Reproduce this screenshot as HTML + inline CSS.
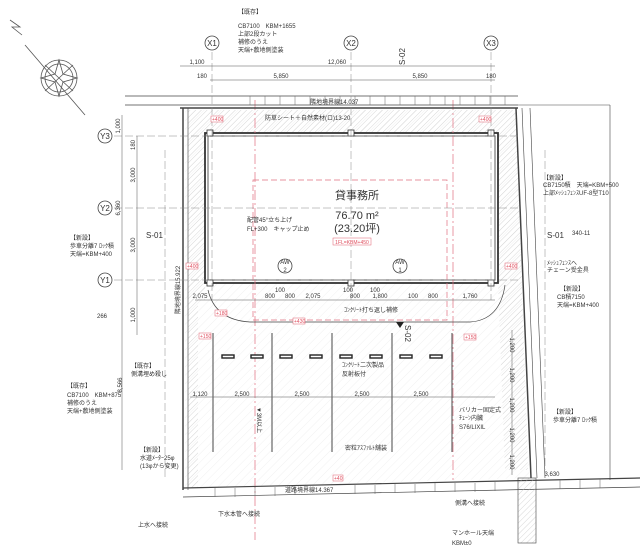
<!DOCTYPE html>
<html><head><meta charset="utf-8"><style>
html,body{margin:0;padding:0;background:#fff}
svg{display:block}
text{font-family:"Liberation Sans","Noto Sans CJK JP",sans-serif;fill:#333}
.s{font-size:6px}.m{font-size:8px}.l{font-size:11px}
.r{fill:#e05060;font-size:5px}
</style></head><body>
<svg width="640" height="555" viewBox="0 0 640 555" xmlns="http://www.w3.org/2000/svg">
<defs>
<pattern id="h" width="4" height="4" patternUnits="userSpaceOnUse" patternTransform="rotate(45)"><line x1="0" y1="0" x2="0" y2="4" stroke="#bbb" stroke-width="0.6"/></pattern>
<pattern id="h2" width="6" height="6" patternUnits="userSpaceOnUse" patternTransform="rotate(45)"><line x1="0" y1="0" x2="0" y2="6" stroke="#e8e8e8" stroke-width="0.6"/></pattern>
</defs>
<g stroke="#555" fill="none" stroke-width="0.8">
<polyline points="10,20 20,27 12,27 22,35"/>
<line x1="25" y1="45" x2="85" y2="115"/>
<circle cx="59" cy="78" r="18"/><circle cx="59" cy="78" r="14"/>
<polygon points="59,60 63,74 77,78 63,82 59,96 55,82 41,78 55,74"/>
<line x1="45" y1="65" x2="73" y2="91"/><line x1="73" y1="65" x2="45" y2="91"/>
</g>
<polygon points="185,110 515,110 530,478 185,488" fill="url(#h2)"/>
<path d="M188,110 L516,110 L528,470 L505,470 L498,283 L498,133 L205,133 L205,300 L198,300 L198,110 Z" fill="url(#h)"/>
<rect x="188" y="110" width="10" height="378" fill="url(#h)"/>
<rect x="205" y="133" width="293" height="150" fill="#fff" stroke="#333" stroke-width="1.8"/>
<rect x="208" y="136" width="287" height="144" fill="none" stroke="#333" stroke-width="0.8"/>
<g fill="#fff" stroke="#333" stroke-width="0.8">
<rect x="207" y="130" width="6" height="6"/><rect x="348" y="130" width="6" height="6"/><rect x="488" y="130" width="6" height="6"/>
<rect x="207" y="280" width="6" height="6"/><rect x="348" y="280" width="6" height="6"/><rect x="488" y="280" width="6" height="6"/>
</g>
<rect x="253" y="180" width="194" height="140" fill="none" stroke="#e07080" stroke-width="0.7" stroke-dasharray="6,3"/>
<line x1="255" y1="100" x2="255" y2="540" stroke="#e07080" stroke-width="0.7" stroke-dasharray="10,3,2,3"/>
<line x1="453" y1="100" x2="453" y2="480" stroke="#e07080" stroke-width="0.7" stroke-dasharray="10,3,2,3"/>
<g stroke="#444" fill="none">
<line x1="125" y1="96" x2="518" y2="96" stroke-width="0.7"/>
<line x1="125" y1="105" x2="518" y2="105" stroke-width="0.7"/>
<line x1="180" y1="108" x2="518" y2="108" stroke-width="1.5"/>
<line x1="183" y1="108" x2="183" y2="490" stroke-width="1.5"/>
<line x1="188" y1="108" x2="188" y2="490" stroke-width="0.6"/>
<line x1="516" y1="108" x2="531" y2="478" stroke-width="1.5"/>
<line x1="522" y1="108" x2="537" y2="478" stroke-width="0.6"/>
<line x1="530" y1="108" x2="545" y2="478" stroke-width="0.6"/>
<line x1="183" y1="488" x2="640" y2="478" stroke-width="1.2"/>
<line x1="183" y1="497" x2="640" y2="487" stroke-width="0.7"/>
<line x1="518" y1="105" x2="610" y2="105" stroke-width="0.6"/>
<line x1="610" y1="105" x2="610" y2="480" stroke-width="0.6"/>
<rect x="518" y="478" width="18" height="65" fill="url(#h)" stroke="#444" stroke-width="0.6"/>
</g>
<g stroke="#666" stroke-width="0.5">
<line x1="250" y1="96" x2="250" y2="105"/><line x1="265" y1="96" x2="265" y2="105"/><line x1="280" y1="96" x2="280" y2="105"/><line x1="295" y1="96" x2="295" y2="105"/><line x1="310" y1="96" x2="310" y2="105"/><line x1="325" y1="96" x2="325" y2="105"/><line x1="340" y1="96" x2="340" y2="105"/><line x1="355" y1="96" x2="355" y2="105"/><line x1="370" y1="96" x2="370" y2="105"/><line x1="385" y1="96" x2="385" y2="105"/><line x1="400" y1="96" x2="400" y2="105"/><line x1="415" y1="96" x2="415" y2="105"/><line x1="430" y1="96" x2="430" y2="105"/><line x1="445" y1="96" x2="445" y2="105"/><line x1="460" y1="96" x2="460" y2="105"/><line x1="475" y1="96" x2="475" y2="105"/><line x1="490" y1="96" x2="490" y2="105"/><line x1="505" y1="96" x2="505" y2="105"/>
<line x1="215" y1="488" x2="215" y2="497"/><line x1="235" y1="488" x2="235" y2="497"/><line x1="255" y1="487" x2="255" y2="496"/><line x1="275" y1="487" x2="275" y2="496"/><line x1="295" y1="486" x2="295" y2="495"/><line x1="355" y1="485" x2="355" y2="494"/><line x1="375" y1="485" x2="375" y2="494"/><line x1="395" y1="484" x2="395" y2="493"/><line x1="415" y1="484" x2="415" y2="493"/><line x1="435" y1="483" x2="435" y2="492"/><line x1="455" y1="483" x2="455" y2="492"/><line x1="475" y1="483" x2="475" y2="492"/><line x1="495" y1="482" x2="495" y2="491"/><line x1="560" y1="480" x2="560" y2="489"/><line x1="580" y1="480" x2="580" y2="489"/><line x1="600" y1="479" x2="600" y2="488"/>
</g>
<g stroke="#888" stroke-width="0.5" stroke-dasharray="8,3">
<line x1="212" y1="52" x2="212" y2="300"/><line x1="351" y1="52" x2="351" y2="300"/><line x1="491" y1="52" x2="491" y2="300"/>
<line x1="114" y1="136" x2="520" y2="136"/><line x1="114" y1="208" x2="520" y2="208"/><line x1="114" y1="280" x2="520" y2="280"/>
<line x1="165" y1="150" x2="165" y2="480"/><line x1="545" y1="150" x2="545" y2="470"/>
</g>
<g fill="#fff" stroke="#444" stroke-width="0.8">
<circle cx="212" cy="43" r="7"/><circle cx="351" cy="43" r="7"/><circle cx="491" cy="43" r="7"/>
<circle cx="105" cy="136" r="7"/><circle cx="105" cy="208" r="7"/><circle cx="105" cy="280" r="7"/>
<circle cx="285" cy="266" r="7"/><circle cx="400" cy="266" r="7"/>
</g>
<g class="m" text-anchor="middle">
<text x="212" y="46">X1</text><text x="351" y="46">X2</text><text x="491" y="46">X3</text>
<text x="105" y="139">Y3</text><text x="105" y="211">Y2</text><text x="105" y="283">Y1</text>
</g>
<g class="s" text-anchor="middle"><text x="285" y="264">AW</text><text x="285" y="272">2</text><text x="400" y="264">AW</text><text x="400" y="272">1</text></g>
<g stroke="#555" stroke-width="0.5">
<line x1="180" y1="66" x2="495" y2="66"/><line x1="210" y1="80" x2="495" y2="80"/>
<line x1="122" y1="115" x2="122" y2="470"/><line x1="137" y1="136" x2="137" y2="335"/>
<line x1="195" y1="300" x2="495" y2="300"/><line x1="190" y1="397" x2="495" y2="397"/>
<line x1="512" y1="330" x2="512" y2="475"/>
</g>
<g class="s" text-anchor="middle">
<text x="197" y="64">1,100</text><text x="337" y="64">12,060</text>
<text x="202" y="78">180</text><text x="281" y="78">5,850</text><text x="420" y="78">5,850</text><text x="491" y="78">180</text>
<text x="200" y="298">2,075</text><text x="270" y="298">800</text><text x="290" y="298">800</text><text x="313" y="298">2,075</text>
<text x="280" y="292">100</text><text x="348" y="292">100</text><text x="375" y="292">100</text>
<text x="355" y="298">800</text><text x="380" y="298">1,800</text><text x="413" y="298">100</text><text x="433" y="298">800</text><text x="470" y="298">1,760</text>
<text x="200" y="396">1,120</text><text x="242" y="396">2,500</text><text x="302" y="396">2,500</text><text x="362" y="396">2,500</text><text x="421" y="396">2,500</text>
<text x="552" y="476">3,630</text>
</g>
<g class="s" text-anchor="middle">
<text transform="translate(120,126) rotate(-90)">1,000</text>
<text transform="translate(135,145) rotate(-90)">180</text>
<text transform="translate(135,175) rotate(-90)">3,000</text>
<text transform="translate(120,208) rotate(-90)">6,360</text>
<text transform="translate(135,245) rotate(-90)">3,000</text>
<text transform="translate(135,315) rotate(-90)">1,000</text>
<text transform="translate(122,385) rotate(-90)">8,566</text>
<text transform="translate(510,345) rotate(90)">1,200</text>
<text transform="translate(510,375) rotate(90)">1,200</text>
<text transform="translate(510,405) rotate(90)">1,200</text>
<text transform="translate(510,435) rotate(90)">1,200</text>
<text transform="translate(510,462) rotate(90)">1,200</text>
<text transform="translate(180,290) rotate(-90)">隣地境界線15.922</text>
<text transform="translate(257,420) rotate(90)">▼3M以上</text>
</g>
<g stroke="#666" stroke-width="1.2">
<line x1="213" y1="333" x2="213" y2="452"/><line x1="272" y1="333" x2="272" y2="452"/><line x1="332" y1="333" x2="332" y2="452"/><line x1="392" y1="333" x2="392" y2="452"/><line x1="452" y1="333" x2="452" y2="452"/>
</g>
<g fill="#fff" stroke="#222" stroke-width="1.4">
<rect x="222" y="355" width="12" height="3"/><rect x="251" y="355" width="12" height="3"/><rect x="280" y="355" width="12" height="3"/><rect x="310" y="355" width="12" height="3"/><rect x="340" y="355" width="12" height="3"/><rect x="370" y="355" width="12" height="3"/><rect x="400" y="355" width="12" height="3"/><rect x="430" y="355" width="12" height="3"/>
</g>
<path d="M208,290 Q215,320 250,322 L470,322 Q500,320 505,285" fill="none" stroke="#444" stroke-width="0.7"/>
<polygon points="400,328 404,322 396,322" fill="#222"/>
<text x="357" y="199" class="l" text-anchor="middle">貸事務所</text>
<text x="357" y="219" class="l" text-anchor="middle">76.70 m²</text>
<text x="357" y="232" class="l" text-anchor="middle">(23.20坪)</text>
<rect x="333" y="238" width="38" height="7" fill="#fff" stroke="#e06070" stroke-width="0.5"/><text x="352" y="244" class="r" text-anchor="middle">1FL=KBM+450</text>
<text x="247" y="222" class="s">配管45°立ち上げ</text><text x="247" y="231" class="s">FL+300　キャップ止め</text>
<text x="238" y="14" class="s">【既存】</text><text x="238" y="28" class="s">CB7100　KBM+1655</text><text x="238" y="36" class="s">上部2段カット</text><text x="238" y="44" class="s">補修のうえ</text><text x="238" y="52" class="s">天端+敷地側塗装</text>
<text x="265" y="120" class="s">防草シート＋自然素材(ロ)13-20</text>
<text x="310" y="104" class="s">隣地境界線14.037</text>
<text x="543" y="180" class="s">【新設】</text><text x="543" y="187" class="s">CB7150積　天端=KBM+500</text><text x="543" y="195" class="s">上部ﾒｯｼｭﾌｪﾝｽUF-8型T10</text>
<text x="547" y="238" class="m">S-01</text><text x="572" y="235" class="s">340-11</text>
<text x="547" y="265" class="s">ﾒｯｼｭﾌｪﾝｽへ</text><text x="547" y="272" class="s">チェーン受金具</text>
<text x="560" y="291" class="s">【新設】</text><text x="557" y="299" class="s">CB積7150</text><text x="557" y="307" class="s">天端=KBM+400</text>
<text x="553" y="414" class="s">【新設】</text><text x="553" y="422" class="s">歩車分離7 ﾛｯｸ積</text>
<text x="146" y="238" class="m">S-01</text>
<text x="70" y="240" class="s">【新設】</text><text x="70" y="248" class="s">歩車分離7 ﾛｯｸ積</text><text x="70" y="256" class="s">天端=KBM+400</text>
<text x="97" y="318" class="s">266</text>
<text x="131" y="368" class="s">【既存】</text><text x="131" y="376" class="s">側溝埋め殺し</text>
<text x="67" y="388" class="s">【既存】</text><text x="67" y="397" class="s">CB7100　KBM+875</text><text x="67" y="405" class="s">補修のうえ</text><text x="67" y="413" class="s">天端+敷地側塗装</text>
<text x="140" y="452" class="s">【新設】</text><text x="140" y="460" class="s">水道ﾒｰﾀｰ25φ</text><text x="140" y="468" class="s">(13φから変更)</text>
<text x="138" y="527" class="s">上水へ接続</text><text x="218" y="516" class="s">下水本管へ接続</text>
<text x="342" y="367" class="s">ｺﾝｸﾘｰﾄ二次製品</text><text x="342" y="376" class="s">反射板付</text>
<text x="345" y="450" class="s">密粒ｱｽﾌｧﾙﾄ舗装</text>
<text x="459" y="412" class="s">バリカー固定式</text><text x="459" y="420" class="s">ﾁｪｰﾝ内臓</text><text x="459" y="429" class="s">S76/LIXIL</text>
<text x="344" y="312" class="s">ｺﾝｸﾘｰﾄ打ち返し補修</text>
<text x="285" y="492" class="s">道路境界線14.367</text>
<text x="455" y="505" class="s">側溝へ接続</text>
<text x="452" y="535" class="s">マンホール天端</text><text x="452" y="545" class="s">KBM±0</text>
<text transform="translate(405,65) rotate(-90)" class="m">S-02</text>
<text transform="translate(405,325) rotate(90)" class="m">S-02</text>
<rect x="211" y="116" width="12" height="6" fill="#fff" stroke="#e06070" stroke-width="0.5"/><text x="212" y="121" class="r">+400</text>
<rect x="479" y="116" width="12" height="6" fill="#fff" stroke="#e06070" stroke-width="0.5"/><text x="480" y="121" class="r">+400</text>
<rect x="186" y="263" width="12" height="6" fill="#fff" stroke="#e06070" stroke-width="0.5"/><text x="187" y="268" class="r">+400</text>
<rect x="505" y="263" width="12" height="6" fill="#fff" stroke="#e06070" stroke-width="0.5"/><text x="506" y="268" class="r">+400</text>
<rect x="215" y="310" width="12" height="6" fill="#fff" stroke="#e06070" stroke-width="0.5"/><text x="216" y="315" class="r">+180</text>
<rect x="199" y="333" width="12" height="6" fill="#fff" stroke="#e06070" stroke-width="0.5"/><text x="200" y="338" class="r">+150</text>
<rect x="293" y="318" width="12" height="6" fill="#fff" stroke="#e06070" stroke-width="0.5"/><text x="294" y="323" class="r">+430</text>
<rect x="464" y="334" width="12" height="6" fill="#fff" stroke="#e06070" stroke-width="0.5"/><text x="465" y="339" class="r">+150</text>
<rect x="333" y="475" width="10" height="6" fill="#fff" stroke="#e06070" stroke-width="0.5"/><text x="334" y="480" class="r">+40</text>
</svg>
</body></html>
